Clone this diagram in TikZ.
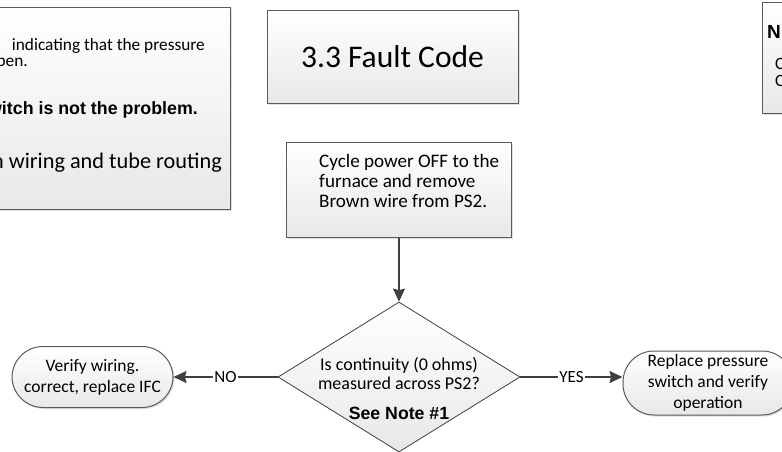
\documentclass[tikz,border=0pt]{standalone}
\usepackage{fontspec}
\setmainfont{Carlito}
\newfontfamily\arialfont{Liberation Sans}
\usetikzlibrary{shapes.geometric,arrows.meta,shadows}
\definecolor{edgegray}{RGB}{90,90,90}
\definecolor{linegray}{RGB}{64,64,64}
\definecolor{shadegray}{RGB}{232,232,232}

\begin{document}
\begin{tikzpicture}[x=1pt, y=-1pt,
  box/.style={rectangle, draw=edgegray, line width=1pt,
              top color=white, bottom color=shadegray, inner sep=0pt,
              drop shadow={shadow xshift=1.5pt, shadow yshift=-1.5pt, opacity=0.25}},
  term/.style={box, rounded corners=31pt, align=center,
               font=\fontsize{17.5}{21}\selectfont},
  decide/.style={diamond, draw=linegray, line width=0.8pt,
                 top color=white, bottom color=shadegray, inner sep=0pt},
  words/.style={inner sep=0pt, font=\fontsize{17.3}{19}\selectfont},
  flow/.style={-{Stealth[length=13pt, width=12pt, inset=1.5pt]}, draw=linegray, line width=1.6pt},
  answer/.style={fill=white, inner sep=1.5pt, font=\fontsize{17}{17}\selectfont}
]
  \fill[white] (0,0) rectangle (782,451);
  \useasboundingbox (0,0) rectangle (782,451);

  % note boxes cut by the page edge
  \node[box, anchor=north east, minimum width=300pt, minimum height=202pt] (warn) at (231,7) {};
  \node[words, anchor=east] (warn1) at (205,46) {indicating that the pressure};
  \node[words, anchor=east] (warn2) at (28,63.5) {pen.};
  \node[words, anchor=east, font=\arialfont\bfseries\fontsize{17.8}{19}\selectfont] (warn3) at (198,110) {witch is not the problem.};
  \node[words, anchor=east, font=\fontsize{22.3}{24}\selectfont] (warn4) at (222,163) {n wiring and tube routing};

  \node[box, anchor=north west, minimum width=120pt, minimum height=111pt] (notes) at (762,2) {};
  \node[words, anchor=west, font=\arialfont\bfseries\fontsize{19}{19}\selectfont] (notes1) at (767,32) {N};
  \node[words, anchor=west] (notes2) at (775,64) {C};
  \node[words, anchor=west] (notes3) at (775,81) {C};

  \node[box, minimum width=251pt, minimum height=93pt, font=\fontsize{31.5}{36}\selectfont] (title) at (392.5,56.5) {3.3 Fault Code};

  % flow
  \node[box, minimum width=225pt, minimum height=95pt] (cycle) at (399,189.5) {};
  \node[words, anchor=west, align=left, font=\fontsize{19.1}{19.6}\selectfont] (cycletext) at (319,181) {Cycle power OFF to the\\furnace and remove\\Brown wire from PS2.};

  \node[decide, minimum width=242pt, minimum height=150pt] (ask) at (399,377) {};
  \node[words, align=center, font=\fontsize{18}{19}\selectfont] (asktext) at (399,388.5) {Is continuity (0 ohms)\\measured across PS2?\\[11pt]{\arialfont\bfseries\fontsize{17.7}{19}\selectfont See Note \#1}};

  \node[term, minimum width=161pt, minimum height=61pt] (fixifc) at (92.5,377) {Verify wiring.\\correct, replace IFC};
  \node[term, minimum width=170pt, minimum height=64pt] (fixps) at (708,383) {Replace pressure\\switch and verify\\operation};

  \draw[flow] (cycle.south) -- (ask.north);
  \draw[flow] (ask.west) -- node[answer] {NO} (fixifc.east);
  \draw[flow] (ask.east) -- node[answer] {YES} (ask.east -| fixps.west);
\end{tikzpicture}
\end{document}
